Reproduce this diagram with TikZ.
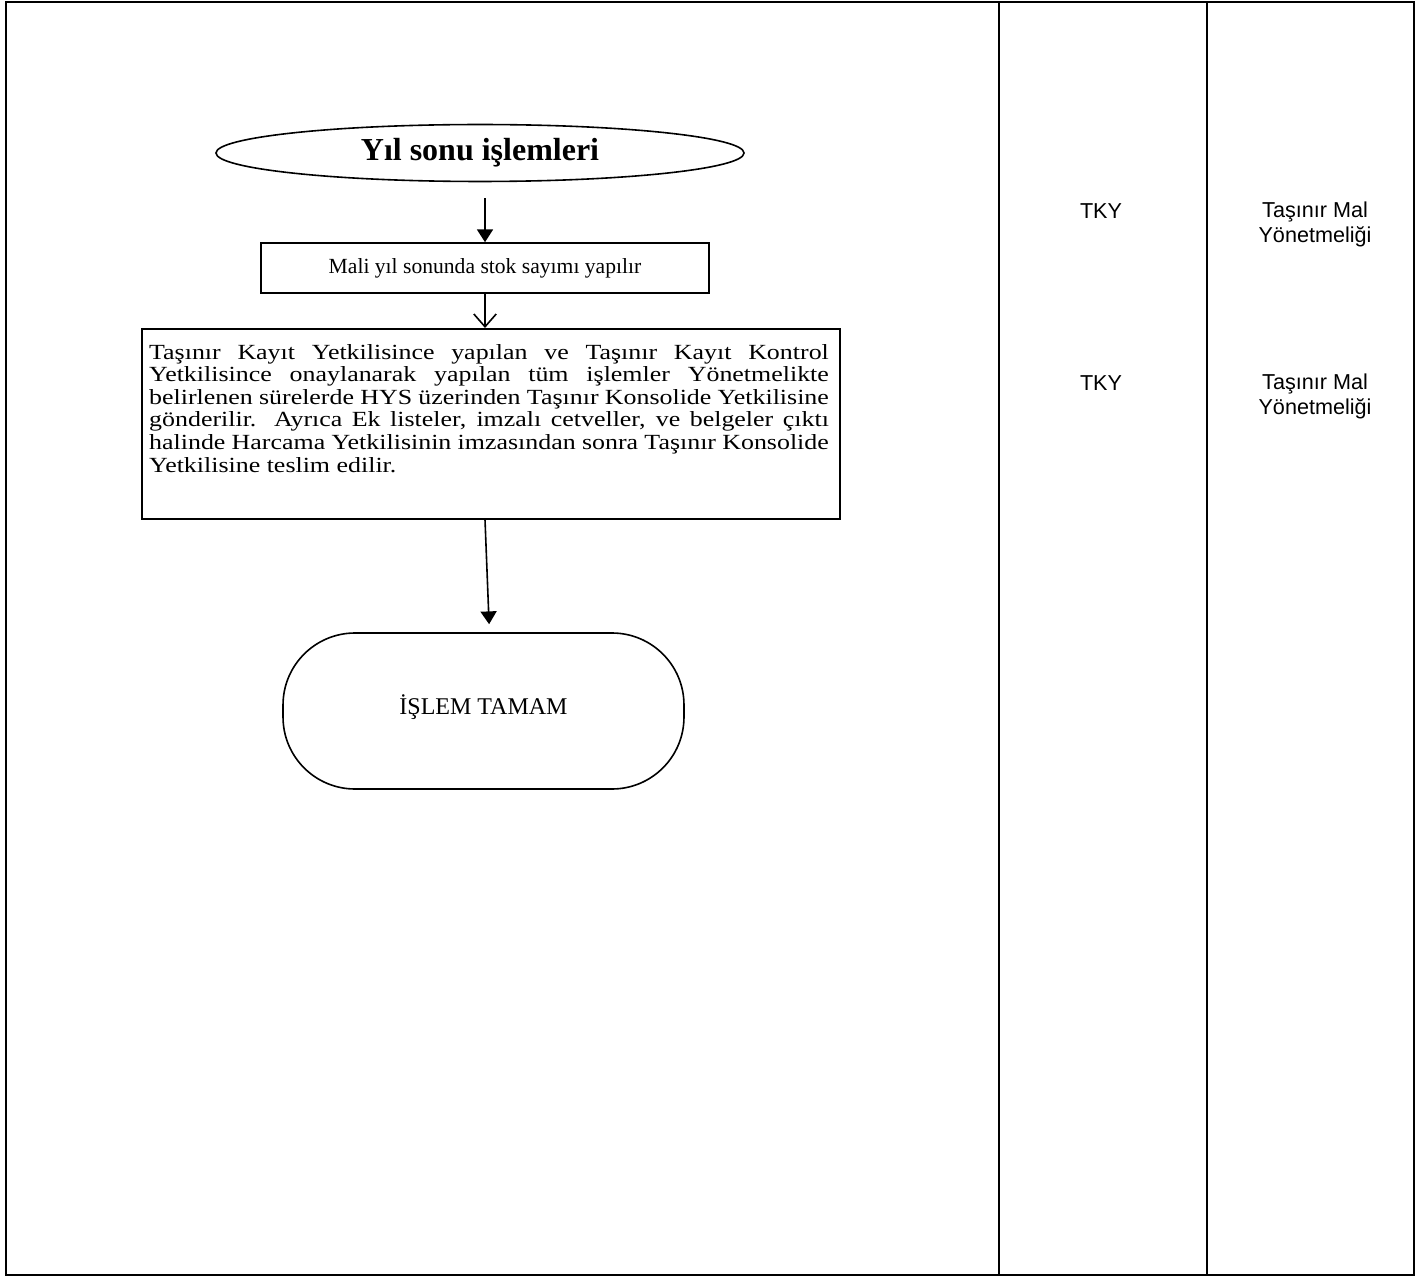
\documentclass[tikz,border=0pt]{standalone}
\usepackage{fontspec}
\setmainfont{Liberation Serif}
\setsansfont{Liberation Sans}
\usepackage{tikz}
\usetikzlibrary{arrows.meta, positioning, shapes.geometric}

\begin{document}
\begin{tikzpicture}[x=0.625pt, y=-0.625pt,
    frame/.style={draw, line width=1.3pt},
    stepbox/.style={draw, line width=1pt, rectangle, inner sep=0pt, font=\fontsize{13.5}{14}\selectfont},
    solid tip/.style={line width=1pt, -{Triangle[length=8pt, width=10pt]}},
    open tip/.style={line width=1pt, -{Straight Barb[length=8pt, width=14pt, line width=1pt]}},
    sidetext/.style={font=\sffamily\fontsize{13.5}{15.6}\selectfont, align=center}
  ]
  \useasboundingbox (0,0) rectangle (1419,1277);
  % table frame
  \draw[frame] (6,2) rectangle (1414,1275);
  \draw[frame] (999,2) -- (999,1275);
  \draw[frame] (1207,2) -- (1207,1275);

  % flow
  \node[draw, line width=1pt, ellipse, inner sep=0pt, minimum width=330pt, minimum height=35.6pt,
    font=\bfseries\fontsize{20}{24}\selectfont] (title) at (480,153) {Yıl sonu işlemleri};
  \node[stepbox, minimum width=280pt, minimum height=31.25pt] (count) at (485,268)
    {Mali yıl sonunda stok sayımı yapılır};
  \node[stepbox, minimum width=436pt, minimum height=118.75pt, anchor=north] (send) at (491,328) {};
  \node[inner sep=0pt, anchor=north, font=\fontsize{13.5}{14.1}\selectfont] (sendtext) at (489,344)
    {\scalebox{1.2}[1]{\parbox{354pt}{%
     Taşınır Kayıt Yetkilisince yapılan ve Taşınır Kayıt Kontrol\linebreak
     Yetkilisince onaylanarak yapılan tüm işlemler Yönetmelikte\linebreak
     belirlenen sürelerde HYS üzerinden Taşınır Konsolide Yetkilisine\linebreak
     gönderilir. Ayrıca Ek listeler, imzalı cetveller, ve belgeler çıktı\linebreak
     halinde Harcama Yetkilisinin imzasından sonra Taşınır Konsolide\linebreak
     Yetkilisine teslim edilir.}}};
  \node[draw, line width=1pt, rectangle, rounded corners=45pt, minimum width=250.6pt, minimum height=97.5pt,
    font=\fontsize{15}{17}\selectfont] (done) at (483.5,711) {\raisebox{8pt}{İŞLEM TAMAM}};

  \draw[solid tip, shorten <=10pt] (count.north |- title.south) -- (count.north);
  \draw[open tip] (count.south) -- (count.south |- send.north);
  \draw[solid tip] ([xshift=-3.75pt]send.south) -- ([xshift=3.5pt, yshift=5pt]done.north);

  % responsible and legal basis
  \node[sidetext] (who1) at (1101,211) {TKY};
  \node[sidetext] (law1) at (1315,224) {Taşınır Mal\\Yönetmeliği};
  \node[sidetext] (who2) at (1101,383) {TKY};
  \node[sidetext] (law2) at (1315,396) {Taşınır Mal\\Yönetmeliği};
\end{tikzpicture}
\end{document}
